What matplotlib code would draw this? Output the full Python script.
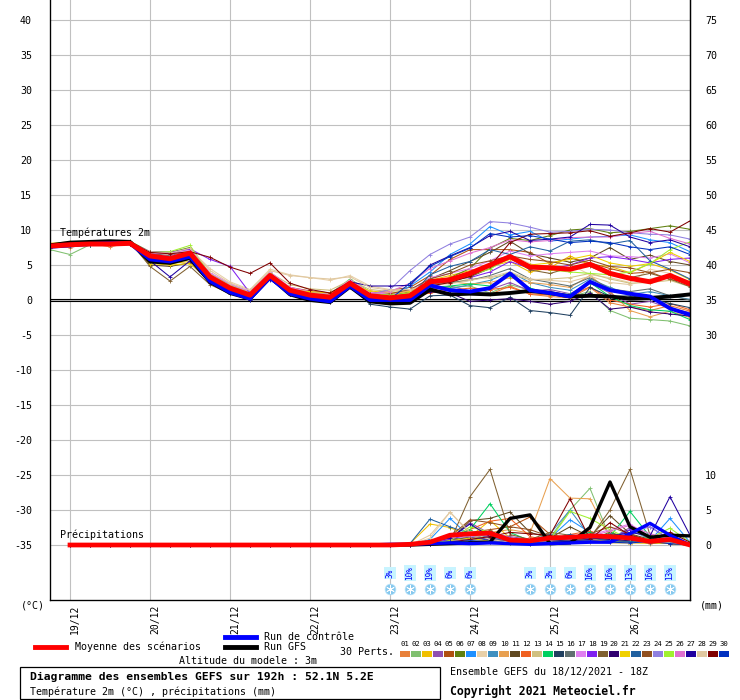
import matplotlib
matplotlib.use('Agg')
import matplotlib.pyplot as plt
from matplotlib.lines import Line2D
from matplotlib.patches import Rectangle

plt.rcParams['font.family'] = ['DejaVu Sans Mono', 'DejaVu Sans']

# echeances (heures depuis le 18/12 18Z)
heures = list(range(0, 193, 6))
heures_pluie = heures[1:]
dates = ['19/12', '20/12', '21/12', '22/12', '23/12', '24/12', '25/12', '26/12']
dates_heures = [6, 30, 54, 78, 102, 126, 150, 174]

couleurs_perts = ['#e8803a', '#80c070', '#f0c000', '#9050b0', '#b05010', '#608010',
                  '#1e90ff', '#e8d0a8', '#4090c0', '#e8a050', '#604820', '#f06020',
                  '#d0c080', '#00d060', '#204060', '#607070', '#e080f0', '#8020f0',
                  '#806030', '#300070', '#f0d000', '#2060a0', '#905020', '#9080e0',
                  '#a0f030', '#e070d0', '#2000a0', '#e0c8a0', '#800000', '#0030c0']

temp_moyenne = [7.7, 7.9, 8.0, 8.0, 8.1, 6.3, 5.9, 6.7, 3.3, 1.7, 0.7, 3.5, 1.4, 0.7, 0.4, 2.4, 0.6,
                0.3, 0.6, 2.6, 2.9, 3.8, 5.0, 6.2, 4.7, 4.6, 4.4, 5.1, 3.8, 3.1, 2.6, 3.5, 2.3]
temp_controle = [7.6, 7.8, 8.0, 8.1, 8.1, 5.8, 5.5, 6.2, 2.7, 1.1, 0.2, 3.2, 0.9, 0.2, -0.2, 2.0, 0.0,
                 0.0, 0.0, 2.1, 1.4, 1.2, 1.7, 3.8, 1.4, 1.0, 0.5, 2.6, 1.4, 0.9, 0.5, -1.2, -2.1]
temp_gfs = [7.8, 8.2, 8.3, 8.4, 8.3, 5.5, 5.3, 6.0, 2.6, 1.0, 0.2, 3.3, 0.8, 0.0, -0.3, 1.9, -0.2,
            -0.5, -0.4, 1.5, 0.8, 0.9, 0.8, 1.0, 1.3, 1.0, 0.5, 0.6, 0.5, 0.2, 0.3, 0.5, 0.8]

temp_perts = [
    [7.8, 7.5, 8.1, 7.6, 8.2, 6.5, 6.3, 6.9, 3.6, 2.0, 1.0, 3.9, 1.5, 0.8, 0.6, 2.6, 0.8, 0.5, 0.2,
     1.2, 1.5, 1.0, 0.8, 2.0, 0.8, 0.5, 0.3, 1.8, -0.4, -1.0, -1.5, -0.8, -1.6],
    [7.2, 6.5, 7.9, 8.0, 8.0, 6.8, 6.6, 7.3, 3.8, 2.2, 1.2, 4.0, 1.6, 1.1, 0.9, 3.0, 1.2, 0.6, 0.9,
     1.6, 1.8, 2.0, 1.0, 2.2, 1.4, 0.9, 0.5, 1.2, -1.5, -2.6, -2.8, -3.0, -3.7],
    [8.1, 8.3, 8.0, 8.2, 8.3, 6.0, 5.2, 5.5, 2.8, 1.4, 0.4, 3.2, 1.0, 0.4, 0.0, 2.2, 0.5, 0.8, 1.0,
     2.8, 3.5, 4.2, 4.8, 5.5, 4.0, 4.6, 6.3, 5.0, 4.8, 3.9, 5.2, 4.3, 2.9],
    [7.6, 7.8, 8.2, 8.3, 8.1, 6.6, 6.4, 6.9, 3.3, 1.5, 0.5, 3.5, 1.1, 0.3, 0.0, 2.1, 0.1, -0.3, 0.1,
     1.5, 2.0, 1.3, 1.5, 2.5, 1.3, 1.5, 0.9, 2.4, 1.0, -0.6, -0.2, -1.2, -1.8],
    [7.9, 8.0, 7.8, 8.1, 8.0, 6.2, 6.1, 6.8, 3.4, 1.9, 0.9, 3.8, 1.8, 1.3, 1.0, 2.6, 0.9, 1.4, 1.8,
     3.5, 5.8, 7.2, 7.2, 7.2, 6.8, 5.2, 6.0, 5.3, 4.5, 3.8, 4.0, 2.9, 2.5],
    [7.5, 7.7, 8.0, 8.3, 8.4, 6.9, 6.8, 7.5, 3.5, 1.8, 0.8, 3.7, 1.3, 0.6, 0.4, 2.5, 0.4, 0.6, 1.2,
     2.0, 3.2, 4.5, 7.4, 8.8, 8.5, 9.2, 10.0, 10.2, 9.6, 9.8, 10.2, 10.6, 10.1],
    [7.7, 8.0, 7.9, 8.1, 8.2, 6.4, 5.8, 6.5, 3.0, 1.3, 0.3, 3.4, 1.0, 0.2, -0.2, 2.2, 0.0, 0.2, 2.0,
     4.0, 6.5, 8.0, 10.5, 9.3, 9.8, 8.4, 8.7, 9.0, 9.1, 9.3, 8.6, 8.2, 6.9],
    [7.8, 8.1, 8.2, 8.0, 8.2, 6.7, 6.5, 7.2, 4.5, 2.6, 1.5, 4.4, 3.6, 3.2, 2.8, 3.5, 2.0, 1.5, 1.3,
     2.4, 3.0, 3.5, 4.5, 6.5, 5.2, 4.3, 5.1, 3.6, 3.2, 2.5, 4.4, 3.8, 2.0],
    [7.9, 7.8, 8.1, 8.2, 8.0, 6.1, 5.7, 6.4, 3.0, 1.5, 0.5, 3.3, 1.2, 0.6, 0.3, 2.3, 0.6, 0.1, 0.5,
     2.0, 1.6, 2.2, 2.8, 4.0, 2.5, 1.8, 1.4, 3.0, 1.8, 0.8, 1.2, 0.6, 0.1],
    [7.6, 7.9, 8.0, 7.9, 8.1, 6.5, 6.2, 6.9, 3.3, 1.8, 0.9, 3.6, 1.4, 0.9, 0.8, 2.7, 1.0, 0.7, 0.9,
     1.8, 2.6, 2.3, 2.5, 3.2, 2.5, 2.2, 1.8, 3.5, 1.2, -1.5, -2.4, -1.6, -2.5],
    [8.0, 8.2, 8.1, 8.3, 8.2, 5.0, 4.8, 5.3, 2.5, 1.0, 0.1, 3.0, 0.8, 0.2, -0.3, 2.0, 0.2, -0.1, 0.3,
     3.0, 4.2, 5.5, 6.8, 8.4, 6.6, 6.0, 5.4, 6.0, 7.5, 5.8, 6.4, 5.5, 5.0],
    [7.7, 7.8, 8.0, 8.1, 8.0, 6.4, 6.1, 6.7, 3.1, 1.6, 0.6, 3.5, 1.3, 0.6, 0.2, 2.2, 0.4, 0.1, 0.4,
     1.0, 1.4, 1.7, 1.5, 1.8, 0.9, 0.7, 0.6, 1.9, 0.0, -0.6, -1.0, -0.5, -1.4],
    [7.8, 7.9, 8.0, 8.2, 8.1, 6.8, 6.5, 7.1, 3.7, 2.1, 1.1, 3.9, 2.2, 1.6, 1.4, 2.8, 1.5, 1.2, 1.5,
     2.2, 2.4, 3.0, 3.2, 3.7, 2.9, 3.0, 3.2, 3.8, 3.0, 2.4, 2.5, 2.8, 1.9],
    [7.7, 7.9, 7.9, 8.0, 8.1, 6.3, 6.0, 6.6, 3.4, 1.7, 0.7, 3.7, 1.1, 0.4, 0.1, 2.3, 0.3, 0.2, 0.5,
     1.8, 2.0, 2.3, 2.0, 3.5, 1.7, 0.9, 0.8, 2.5, 0.5, -0.8, -1.4, -1.6, -2.8],
    [7.5, 7.7, 7.9, 8.0, 8.0, 6.0, 5.6, 6.2, 2.4, 1.0, 0.0, 3.0, 0.9, 0.2, -0.3, 1.9, -0.6, -1.0, -1.3,
     0.6, 0.7, -0.8, -1.1, 0.4, -1.5, -1.8, -2.2, 1.8, 0.5, 0.6, 0.2, -0.5, -1.1],
    [7.8, 8.0, 8.1, 8.2, 8.2, 6.6, 6.3, 6.8, 3.0, 1.5, 0.6, 3.4, 1.2, 0.5, 0.1, 2.2, 0.3, 0.2, 0.7,
     2.4, 2.5, 2.8, 3.5, 4.5, 3.0, 2.5, 2.0, 3.2, 1.6, 1.2, 1.6, 0.6, 0.0],
    [7.6, 7.8, 8.0, 8.0, 8.1, 6.7, 6.6, 7.2, 3.9, 2.3, 1.2, 4.0, 1.8, 1.2, 0.9, 2.8, 1.1, 0.8, 1.3,
     3.2, 3.8, 4.5, 5.6, 7.0, 6.3, 6.6, 6.8, 7.0, 6.3, 6.2, 6.0, 6.6, 5.3],
    [7.9, 8.0, 8.1, 8.3, 8.2, 6.9, 6.8, 7.3, 5.8, 4.8, 1.0, 3.6, 1.4, 0.8, 0.5, 2.4, 0.7, 0.4, 0.8,
     2.5, 3.0, 3.2, 4.0, 5.5, 4.5, 4.4, 5.0, 6.0, 6.2, 5.8, 5.3, 5.8, 6.0],
    [7.7, 8.0, 8.1, 8.1, 8.3, 4.8, 2.7, 4.8, 2.2, 0.9, 0.1, 3.2, 0.9, 0.3, 0.0, 2.1, 0.1, 0.0, 0.2,
     2.1, 2.7, 3.3, 4.5, 6.0, 4.3, 3.8, 4.6, 4.8, 3.6, 3.2, 3.8, 3.0, 1.9],
    [7.8, 7.9, 8.0, 8.1, 8.1, 6.2, 5.9, 6.4, 3.1, 1.4, 0.4, 3.3, 1.0, 0.3, -0.1, 2.1, 0.2, -0.2, 0.2,
     1.2, 1.0, -0.2, 0.0, 0.2, -0.2, -0.6, -0.2, 1.0, -1.3, -1.0, -1.7, -2.0, -2.3],
    [7.9, 8.1, 8.0, 8.2, 8.2, 5.2, 5.0, 5.2, 2.9, 1.6, 0.7, 3.5, 1.4, 1.2, 1.0, 2.3, 1.3, 1.0, 1.2,
     2.5, 3.2, 4.0, 4.8, 5.8, 5.0, 5.3, 5.8, 6.4, 5.3, 4.8, 5.2, 6.8, 5.5],
    [7.7, 7.8, 8.0, 8.2, 8.1, 6.0, 5.5, 6.1, 2.8, 1.2, 0.3, 3.2, 1.0, 0.4, 0.0, 2.0, 0.1, 0.0, 0.5,
     3.6, 4.8, 5.5, 7.2, 6.5, 7.6, 7.0, 8.4, 8.6, 8.0, 8.5, 5.6, 4.4, 3.0],
    [7.6, 7.9, 8.1, 8.0, 8.2, 6.6, 6.2, 6.8, 3.3, 1.7, 0.8, 3.6, 1.3, 0.6, 0.3, 2.4, 0.6, 0.9, 1.5,
     3.0, 3.8, 5.0, 5.6, 6.3, 5.8, 5.5, 5.0, 5.7, 4.8, 4.6, 3.9, 4.4, 3.9],
    [7.8, 7.9, 8.0, 8.1, 8.2, 6.5, 6.2, 6.9, 3.2, 1.6, 0.5, 3.4, 1.2, 0.5, 0.2, 2.5, 0.8, 1.5, 4.2,
     6.5, 8.0, 9.0, 11.2, 11.0, 10.4, 9.7, 9.8, 10.1, 10.0, 9.6, 9.4, 9.3, 8.7],
    [7.7, 7.8, 8.0, 8.2, 8.1, 6.8, 6.9, 7.8, 3.6, 2.0, 1.0, 3.8, 1.5, 0.9, 0.6, 2.6, 0.9, 0.7, 1.0,
     2.6, 3.0, 3.6, 4.4, 6.2, 5.0, 4.3, 4.0, 3.8, 3.6, 4.0, 5.2, 7.2, 8.3],
    [7.7, 7.9, 8.1, 8.0, 8.1, 6.4, 6.2, 6.9, 3.5, 1.9, 0.9, 3.7, 1.5, 0.8, 0.5, 2.6, 0.9, 1.2, 2.4,
     4.5, 5.6, 6.7, 7.5, 8.6, 8.3, 8.5, 8.9, 9.0, 9.0, 9.5, 9.8, 8.8, 8.0],
    [7.6, 7.8, 8.0, 8.0, 8.1, 5.6, 3.3, 5.6, 2.4, 1.0, 0.0, 2.9, 0.9, 0.3, 0.0, 2.6, 2.0, 2.0, 2.1,
     5.0, 6.3, 7.5, 9.2, 9.8, 8.5, 8.7, 9.0, 10.8, 10.7, 9.0, 8.2, 8.6, 7.6],
    [7.8, 8.0, 8.2, 8.1, 8.2, 6.9, 6.7, 7.4, 4.2, 2.4, 1.4, 4.2, 3.5, 3.2, 3.0, 3.3, 1.8, 1.4, 1.5,
     2.2, 2.3, 2.8, 3.3, 4.0, 3.0, 2.8, 2.6, 3.4, 2.5, 2.2, 3.0, 3.6, 2.6],
    [7.7, 8.0, 8.1, 8.2, 8.3, 6.8, 6.6, 6.9, 6.1, 4.7, 3.8, 5.3, 2.4, 1.5, 1.0, 2.6, 0.8, 0.5, 0.8,
     2.0, 2.5, 3.4, 4.8, 8.2, 9.4, 9.5, 9.6, 9.9, 9.1, 9.6, 10.2, 9.7, 11.3],
    [7.6, 7.8, 8.0, 8.2, 8.1, 6.1, 5.7, 6.3, 2.9, 1.3, 0.2, 3.1, 0.9, 0.2, -0.2, 2.0, 0.1, 0.1, 2.4,
     4.8, 6.2, 7.4, 9.5, 9.0, 9.2, 8.7, 8.2, 8.4, 8.2, 7.6, 7.2, 7.6, 6.5],
]

# precipitations (mm / 6h), de +6h a +192h
pluie_moyenne = [0, 0, 0, 0, 0, 0, 0, 0, 0, 0, 0, 0, 0, 0, 0, 0,
                 0.0, 0.1, 0.4, 1.4, 1.6, 1.7, 0.7, 0.6, 1.0, 1.1, 1.3, 1.2, 1.0, 0.5, 0.8, 0.0]
pluie_controle = [0, 0, 0, 0, 0, 0, 0, 0, 0, 0, 0, 0, 0, 0, 0, 0,
                  0.1, 0.1, 0.2, 0.3, 0.2, 0.3, 0.2, 0.1, 0.2, 0.3, 0.4, 0.4, 1.6, 3.1, 1.4, 0.0]
pluie_gfs = [0, 0, 0, 0, 0, 0, 0, 0, 0, 0, 0, 0, 0, 0, 0, 0,
             0.0, 0.0, 0.1, 0.2, 0.3, 0.4, 3.8, 4.3, 0.2, 0.3, 2.5, 9.0, 2.6, 1.1, 1.4, 1.3]
pluie_perts = [
    [0, 0, 0, 0, 0, 0, 0, 0, 0, 0, 0, 0, 0, 0, 0, 0, 0, 0, 0.3, 1.0, 0.8, 0.6, 0.4, 0.5, 0.3, 1.2, 1.0, 0.6, 0.5, 0.3, 0.2, 0],
    [0, 0, 0, 0, 0, 0, 0, 0, 0, 0, 0, 0, 0, 0, 0, 0, 0, 0, 0.2, 0.6, 1.2, 1.5, 0.8, 0.4, 1.0, 5.0, 8.1, 1.0, 0.5, 0.6, 0.4, 0],
    [0, 0, 0, 0, 0, 0, 0, 0, 0, 0, 0, 0, 0, 0, 0, 0, 0, 0.2, 3.0, 2.5, 1.2, 3.5, 1.0, 0.5, 0.6, 0.8, 1.2, 0.5, 0.3, 0.8, 0.3, 0],
    [0, 0, 0, 0, 0, 0, 0, 0, 0, 0, 0, 0, 0, 0, 0, 0, 0, 0, 0.4, 0.8, 3.2, 1.6, 1.2, 0.8, 0.5, 0.6, 1.2, 0.8, 2.5, 1.2, 0.6, 0.2],
    [0, 0, 0, 0, 0, 0, 0, 0, 0, 0, 0, 0, 0, 0, 0, 0, 0, 0, 0.2, 0.5, 1.8, 2.2, 2.6, 4.0, 1.5, 1.0, 0.6, 0.8, 1.2, 0.4, 0.2, 0],
    [0, 0, 0, 0, 0, 0, 0, 0, 0, 0, 0, 0, 0, 0, 0, 0, 0, 0, 0.2, 0.8, 1.2, 1.0, 0.6, 0.4, 0.2, 0.5, 0.8, 1.8, 1.0, 0.4, 0.6, 0],
    [0, 0, 0, 0, 0, 0, 0, 0, 0, 0, 0, 0, 0, 0, 0, 0, 0, 0, 0.8, 3.8, 1.2, 0.6, 0.5, 0.6, 1.0, 3.6, 1.8, 0.8, 1.2, 0.6, 3.8, 0.4],
    [0, 0, 0, 0, 0, 0, 0, 0, 0, 0, 0, 0, 0, 0, 0, 0, 0, 0, 1.0, 4.7, 1.6, 1.0, 0.4, 0.2, 0.3, 0.5, 0.6, 0.4, 0.2, 0.5, 0.3, 0],
    [0, 0, 0, 0, 0, 0, 0, 0, 0, 0, 0, 0, 0, 0, 0, 0, 0, 0, 0.3, 1.2, 0.8, 1.6, 0.8, 0.6, 1.6, 5.0, 1.2, 1.0, 2.2, 0.8, 0.4, 0],
    [0, 0, 0, 0, 0, 0, 0, 0, 0, 0, 0, 0, 0, 0, 0, 0, 0, 0, 0.2, 0.4, 0.8, 1.8, 2.2, 1.7, 9.5, 6.7, 6.6, 1.0, 0.4, 0.2, 0.3, 0],
    [0, 0, 0, 0, 0, 0, 0, 0, 0, 0, 0, 0, 0, 0, 0, 0, 0, 0, 0.3, 0.6, 3.5, 3.8, 4.7, 1.8, 1.0, 2.6, 1.2, 4.2, 1.6, 0.8, 0.4, 0],
    [0, 0, 0, 0, 0, 0, 0, 0, 0, 0, 0, 0, 0, 0, 0, 0, 0, 0, 0.4, 1.0, 2.2, 3.4, 3.8, 1.2, 0.6, 1.5, 2.0, 0.8, 0.4, 0.6, 0.3, 0],
    [0, 0, 0, 0, 0, 0, 0, 0, 0, 0, 0, 0, 0, 0, 0, 0, 0, 0.1, 0.6, 1.2, 0.8, 0.5, 0.3, 0.2, 0.4, 0.6, 0.5, 0.3, 0.2, 0.4, 0.2, 0],
    [0, 0, 0, 0, 0, 0, 0, 0, 0, 0, 0, 0, 0, 0, 0, 0, 0, 0, 0.4, 0.8, 2.2, 5.9, 1.8, 0.6, 0.5, 1.0, 1.8, 1.2, 4.8, 1.2, 0.6, 0],
    [0, 0, 0, 0, 0, 0, 0, 0, 0, 0, 0, 0, 0, 0, 0, 0, 0, 0, 0.2, 0.5, 1.2, 2.0, 0.8, 0.5, 0.4, 0.8, 1.2, 1.6, 1.2, 0.5, 0.3, 0],
    [0, 0, 0, 0, 0, 0, 0, 0, 0, 0, 0, 0, 0, 0, 0, 0, 0, 0, 0.2, 0.8, 0.6, 1.2, 0.5, 0.3, 0.4, 0.6, 0.5, 0.4, 0.5, 0.8, 0.2, 0],
    [0, 0, 0, 0, 0, 0, 0, 0, 0, 0, 0, 0, 0, 0, 0, 0, 0, 0, 0.3, 1.0, 1.2, 1.5, 0.6, 0.8, 1.2, 1.0, 1.4, 2.2, 3.0, 1.2, 0.6, 0],
    [0, 0, 0, 0, 0, 0, 0, 0, 0, 0, 0, 0, 0, 0, 0, 0, 0, 0, 0.2, 0.8, 1.6, 1.2, 0.8, 0.6, 1.0, 1.2, 1.5, 0.8, 2.2, 2.6, 0.8, 0.2],
    [0, 0, 0, 0, 0, 0, 0, 0, 0, 0, 0, 0, 0, 0, 0, 0, 0, 0, 0.2, 0.5, 6.9, 10.8, 1.5, 0.8, 1.8, 1.4, 1.0, 5.0, 10.8, 1.4, 0.5, 0],
    [0, 0, 0, 0, 0, 0, 0, 0, 0, 0, 0, 0, 0, 0, 0, 0, 0, 0, 0.2, 0.6, 1.0, 0.8, 0.5, 0.4, 0.6, 0.8, 1.0, 0.8, 0.6, 1.0, 0.5, 0],
    [0, 0, 0, 0, 0, 0, 0, 0, 0, 0, 0, 0, 0, 0, 0, 0, 0, 0, 0.2, 0.6, 1.0, 0.5, 0.3, 0.2, 0.4, 0.6, 0.8, 0.5, 0.2, 0.3, 0.2, 0],
    [0, 0, 0, 0, 0, 0, 0, 0, 0, 0, 0, 0, 0, 0, 0, 0, 0, 0.2, 3.7, 2.6, 1.6, 1.0, 0.6, 0.5, 0.8, 1.5, 1.0, 0.6, 0.5, 0.3, 0.4, 0],
    [0, 0, 0, 0, 0, 0, 0, 0, 0, 0, 0, 0, 0, 0, 0, 0, 0, 0, 0.3, 1.2, 3.6, 3.2, 2.6, 2.2, 1.2, 0.8, 1.6, 2.6, 1.6, 0.5, 0.2, 0],
    [0, 0, 0, 0, 0, 0, 0, 0, 0, 0, 0, 0, 0, 0, 0, 0, 0, 0, 0.2, 0.5, 0.8, 1.2, 0.6, 0.5, 1.0, 0.8, 1.2, 1.0, 1.8, 2.6, 0.8, 0],
    [0, 0, 0, 0, 0, 0, 0, 0, 0, 0, 0, 0, 0, 0, 0, 0, 0, 0, 0.2, 0.6, 2.6, 1.8, 0.8, 0.4, 0.8, 4.8, 3.8, 2.2, 0.8, 1.0, 2.4, 0.4],
    [0, 0, 0, 0, 0, 0, 0, 0, 0, 0, 0, 0, 0, 0, 0, 0, 0, 0, 0.3, 1.0, 1.6, 1.3, 1.0, 0.6, 0.8, 1.0, 1.2, 2.0, 2.8, 1.6, 1.0, 0],
    [0, 0, 0, 0, 0, 0, 0, 0, 0, 0, 0, 0, 0, 0, 0, 0, 0, 0, 0.4, 1.0, 3.0, 1.2, 0.8, 0.6, 0.5, 0.6, 0.8, 1.2, 1.8, 1.3, 6.9, 1.4],
    [0, 0, 0, 0, 0, 0, 0, 0, 0, 0, 0, 0, 0, 0, 0, 0, 0, 0, 1.4, 4.7, 1.8, 0.8, 0.4, 0.5, 0.6, 0.4, 0.5, 0.3, 0.2, 0.4, 0.3, 0],
    [0, 0, 0, 0, 0, 0, 0, 0, 0, 0, 0, 0, 0, 0, 0, 0, 0, 0, 0.2, 0.4, 0.8, 1.2, 1.8, 1.6, 1.4, 6.6, 0.8, 3.2, 1.4, 0.6, 1.8, 0.4],
    [0, 0, 0, 0, 0, 0, 0, 0, 0, 0, 0, 0, 0, 0, 0, 0, 0, 0, 0.2, 0.4, 0.6, 0.5, 0.3, 0.2, 0.4, 0.5, 0.6, 0.4, 0.3, 0.5, 0.2, 0],
]

# probabilite de neige (%)
neige_heures = [102, 108, 114, 120, 126, 144, 150, 156, 162, 168, 174, 180, 186]
neige_pct = [3, 10, 19, 6, 6, 3, 3, 6, 16, 16, 13, 16, 13]

W, H = 740, 700


def fig_xy(x, y):
    return x / W, 1 - y / H


fig = plt.figure(figsize=(W / 100, H / 100), dpi=100)
ax = fig.add_axes([50 / W, 100 / H, 640 / W, 600 / H])
ymin, ymax = -300 / 7, 300 / 7
ax.set_xlim(0, 192)
ax.set_ylim(ymin, ymax)

# grille
for t in range(-35, 41, 5):
    ax.axhline(t, color='#c0c0c0', lw=0.8, zorder=0)
for h in dates_heures:
    ax.axvline(h, color='#c0c0c0', lw=0.8, zorder=0)
ax.axhline(0.17, color='black', lw=0.8, zorder=1)
ax.axhline(-0.17, color='black', lw=0.8, zorder=1)

ax.spines['top'].set_visible(False)
for sp in ['left', 'right', 'bottom']:
    ax.spines[sp].set_linewidth(0.9)

ax.set_yticks(range(-35, 41, 5))
ax.set_yticklabels([str(t) for t in range(-35, 41, 5)], fontsize=7.2)
ax.tick_params(axis='y', length=0, pad=13)
ax.set_xticks(dates_heures)
ax.set_xticklabels(dates, rotation=90, fontsize=7, va='top', ha='left')
ax.tick_params(axis='x', length=0, pad=3)

# temperatures
for vals, c in zip(temp_perts, couleurs_perts):
    ax.plot(heures, vals, color=c, lw=0.75, marker='+', ms=2.5, mew=0.6, zorder=2)
ax.plot(heures, temp_gfs, color='black', lw=2.8, zorder=3)
ax.plot(heures, temp_controle, color='#0000ff', lw=2.8, zorder=4)
ax.plot(heures, temp_moyenne, color='#ff0000', lw=3.6, zorder=5)

# precipitations sur l'axe de droite
ax2 = ax.twinx()
ax2.set_ylim(ymin + 35, ymax + 35)
ax2.spines['top'].set_visible(False)
ax2.spines['right'].set_linewidth(0.9)
droite = [0, 5, 10, 30, 35, 40, 45, 50, 55, 60, 65, 70, 75]
ax2.set_yticks(droite)
ax2.set_yticklabels([str(v) for v in droite], fontsize=7.2)
ax2.tick_params(axis='y', length=0, pad=11)
for vals, c in zip(pluie_perts, couleurs_perts):
    ax2.plot(heures_pluie, vals, color=c, lw=0.75, marker='+', ms=2.5, mew=0.6, zorder=2)
ax2.plot(heures_pluie, pluie_gfs, color='black', lw=2.4, zorder=3)
ax2.plot(heures_pluie, pluie_controle, color='#0000ff', lw=2.4, zorder=4)
ax2.plot(heures_pluie, pluie_moyenne, color='#ff0000', lw=3.4, zorder=5)

ax.text(3, 9.6, 'Températures 2m', fontsize=7.2, va='center', ha='left', zorder=6)
ax.text(3, -33.6, 'Précipitations', fontsize=7.2, va='center', ha='left', zorder=6)

# icones de neige
ax.scatter(neige_heures, [-41.3] * len(neige_heures), s=60, color='#86c8ee',
           edgecolors='#b8e4fa', linewidths=0.5, zorder=6, clip_on=False)
ax.scatter(neige_heures, [-41.3] * len(neige_heures), s=32, marker=(6, 2, 0),
           color='white', linewidths=0.6, zorder=7, clip_on=False)
for h, p in zip(neige_heures, neige_pct):
    ax.text(h, -39.0, f'{p}%', rotation=90, fontsize=5.5, color='#0000ff',
            ha='center', va='center', zorder=7,
            bbox=dict(boxstyle='square,pad=0.15', fc='#c8f4ff', ec='none'))

# unites
fig.text(*fig_xy(33, 606), '(°C)', fontsize=7.2, ha='center', va='center')
fig.text(*fig_xy(712, 606), '(mm)', fontsize=7.2, ha='center', va='center')

# legende
fig.add_artist(Line2D([35 / W, 66 / W], [1 - 647 / H] * 2, color='#ff0000', lw=3.5))
fig.text(*fig_xy(75, 647), 'Moyenne des scénarios', fontsize=7.2, va='center')
fig.add_artist(Line2D([225 / W, 256 / W], [1 - 637 / H] * 2, color='#0000ff', lw=3.5))
fig.text(*fig_xy(264, 637), 'Run de contrôle', fontsize=7.2, va='center')
fig.add_artist(Line2D([225 / W, 256 / W], [1 - 647 / H] * 2, color='black', lw=3.5))
fig.text(*fig_xy(264, 647), 'Run GFS', fontsize=7.2, va='center')
fig.text(*fig_xy(340, 652), '30 Perts.', fontsize=7.2, va='center')
for k, c in enumerate(couleurs_perts):
    x0 = 400 + 11 * k
    fig.add_artist(Rectangle(fig_xy(x0, 656.5), 10 / W, 6 / H, color=c, lw=0))
    fig.text(*fig_xy(x0 + 5, 644), f'{k + 1:02d}', fontsize=5.2, ha='center', va='center')
fig.text(*fig_xy(248, 661), 'Altitude du modele : 3m', fontsize=7.2, ha='center', va='center')

fig.add_artist(Rectangle(fig_xy(20, 699), 420 / W, 32 / H, fill=False, ec='black', lw=0.9))
fig.text(*fig_xy(30, 677), 'Diagramme des ensembles GEFS sur 192h : 52.1N 5.2E',
         fontsize=8.2, fontweight='bold', va='center')
fig.text(*fig_xy(30, 692), 'Température 2m (°C) , précipitations (mm)', fontsize=7.2, va='center')
fig.text(*fig_xy(450, 672), 'Ensemble GEFS du 18/12/2021 - 18Z', fontsize=7.2, va='center')
fig.text(*fig_xy(450, 691), 'Copyright 2021 Meteociel.fr', fontsize=8.3, fontweight='bold', va='center')

fig.savefig('out.png', dpi=100)
